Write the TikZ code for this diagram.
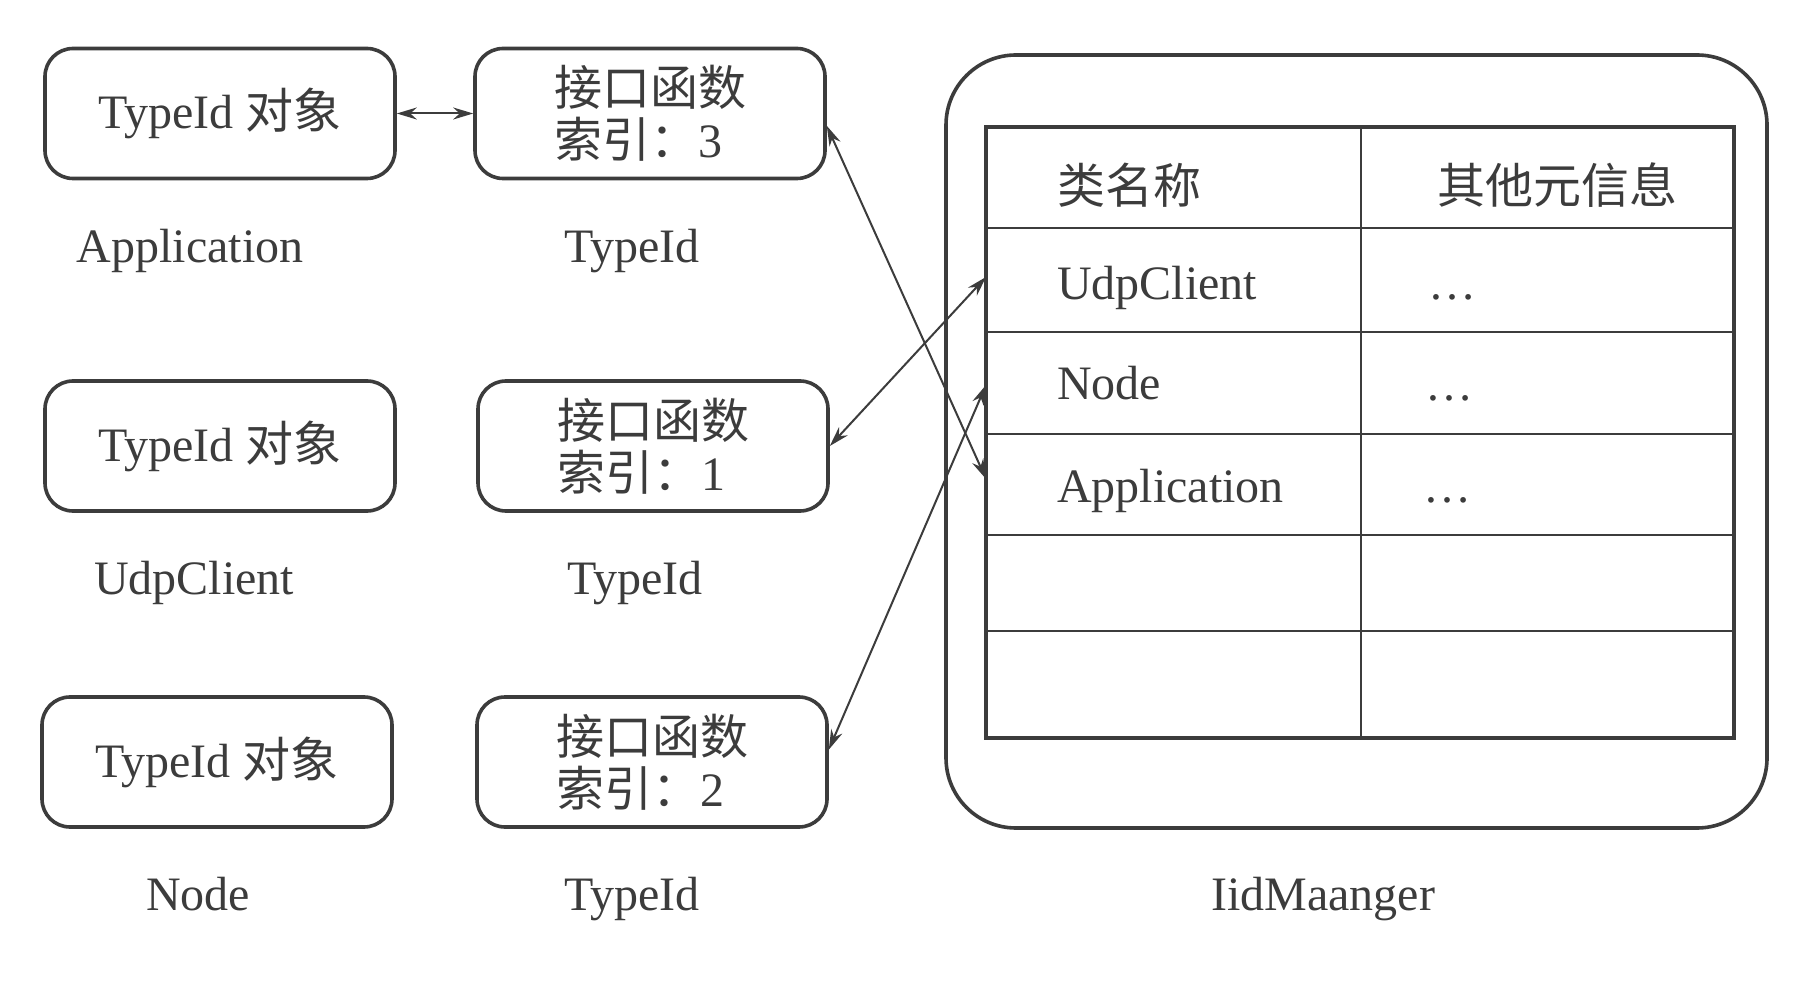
\documentclass[tikz,border=0pt]{standalone}
\usepackage{fontspec}
\setmainfont{Liberation Serif}
\newfontfamily\cjk{Noto Sans CJK SC}
\usetikzlibrary{arrows.meta}
\definecolor{ink}{HTML}{3C3C3C}
\begin{document}
\begin{tikzpicture}[x=0.5pt,y=-0.5pt,
  every node/.style={font=\fontsize{24}{26}\selectfont, text=ink},
  box/.style={draw=ink, line width=1.8pt, rounded corners=14pt, minimum width=175pt, minimum height=65pt, inner sep=0pt},
  mbox/.style={box, align=left},
  conn/.style={draw=ink, line width=1pt, {Stealth[length=10pt,width=6pt]}-{Stealth[length=10pt,width=6pt]}},
  tline/.style={draw=ink, line width=1.4pt},
]
\useasboundingbox (0,0) rectangle (1809,999);
\fill[white] (0,0) rectangle (1809,999);

% left boxes
\node[box] (l1) at (220,113.5) {TypeId {\cjk 对象}};
\node[box] (l2) at (220,446) {TypeId {\cjk 对象}};
\node[box] (l3) at (217,762) {TypeId {\cjk 对象}};
% middle boxes
\node[mbox] (m3) at (650,113.5) {{\cjk 接口函数}\\{\cjk 索引：}3};
\node[mbox] (m1) at (653,446) {{\cjk 接口函数}\\{\cjk 索引：}1};
\node[mbox] (m2) at (652,762) {{\cjk 接口函数}\\{\cjk 索引：}2};

% labels
\node[anchor=base] (la1) at (190,263) {Application};
\node[anchor=base] (lt1) at (632,263) {TypeId};
\node[anchor=base] (la2) at (194,595) {UdpClient};
\node[anchor=base] (lt2) at (635,595) {TypeId};
\node[anchor=base] (la3) at (198,910) {Node};
\node[anchor=base] (lt3) at (632,910) {TypeId};

% manager
\node[draw=ink, line width=1.8pt, rounded corners=35pt, minimum width=410.5pt, minimum height=386.5pt, inner sep=0pt] (mgr) at (1356.5,441.5) {};
\node[anchor=base] (mgrl) at (1323,910) {IidMaanger};

% table
\draw[draw=ink, line width=1.8pt] (986,127) rectangle (1734,738);
\draw[tline] (1361,127) -- (1361,738);
\foreach \yy in {228,332,434,535,631} \draw[tline] (986,\yy) -- (1734,\yy);

\node[anchor=west] (h1) at (1050,185) {\cjk 类名称};
\node[anchor=west] (h2) at (1430,185) {\cjk 其他元信息};
\node[anchor=base west] (r1) at (1050,300) {UdpClient};
\node[anchor=base west] (r2) at (1050,400) {Node};
\node[anchor=base west] (r3) at (1050,503) {Application};
\node[anchor=base] (d1) at (1452,300) {\ldots};
\node[anchor=base] (d2) at (1449,401) {\ldots};
\node[anchor=base] (d3) at (1447,503) {\ldots};

\coordinate (rowU) at (986,277);
\coordinate (rowN) at (986,385);
\coordinate (rowA) at (986,479);

% connectors
\draw[conn] (l1.east) -- (m3.west);
\draw[conn] (m3.-4) -- (rowA);
\draw[conn] (m1.east) -- (rowU);
\draw[conn] (m2.4) -- (rowN);
\end{tikzpicture}
\end{document}
